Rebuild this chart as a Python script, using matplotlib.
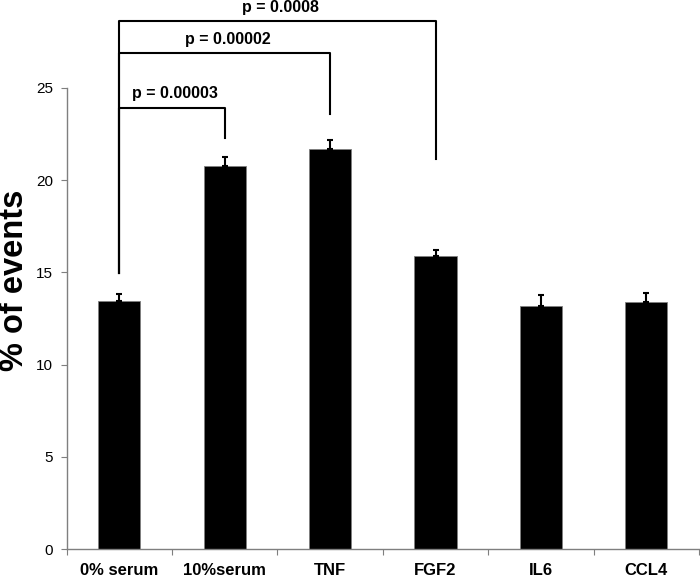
import numpy as np
import matplotlib
matplotlib.use('Agg')
import matplotlib.pyplot as plt

# data
categories = ['0% serum', '10%serum', 'TNF', 'FGF2', 'IL6', 'CCL4']
values = [13.47, 20.79, 21.69, 15.89, 13.19, 13.38]
errors = [0.36, 0.49, 0.47, 0.32, 0.58, 0.49]

# significance brackets: (from, to, bracket height, right leg bottom, label)
brackets = [
    (0, 1, 23.93, 22.29, 'p = 0.00003'),
    (0, 2, 26.90, 23.59, 'p = 0.00002'),
    (0, 3, 28.63, 21.13, 'p = 0.0008'),
]
left_leg_bottom = 14.98

plt.rcParams['font.family'] = ['Liberation Sans', 'DejaVu Sans']

fig = plt.figure(figsize=(7, 5.77), dpi=100)
ax = fig.add_axes([0.0953, 0.0485, 0.9033, 0.799])

x = np.arange(len(categories))
ax.bar(x, values, width=0.4, color='black', edgecolor='#7f7f7f', linewidth=0.6, zorder=2)
ax.errorbar(x, values, yerr=[np.zeros(len(errors)), errors], fmt='none',
            ecolor='black', elinewidth=1.5, capsize=2, capthick=1.5, zorder=3)

for i, j, h, rb, label in brackets:
    ax.plot([x[i], x[i], x[j], x[j]], [left_leg_bottom, h, h, rb],
            color='black', linewidth=1.5, clip_on=False, zorder=4)
    ax.text((x[i] + x[j]) / 2 + 0.03, h + 0.35, label, ha='center', va='bottom',
            fontsize=11.5, fontweight='bold', clip_on=False)

ax.set_xlim(-0.5, len(categories) - 0.5)
ax.set_ylim(0, 25)
ax.set_yticks([0, 5, 10, 15, 20, 25])
ax.set_xticks(np.arange(len(categories) + 1) - 0.5)
ax.set_xticklabels([])
ax.set_xticks(x, minor=True)
ax.set_xticklabels(categories, minor=True, fontsize=12, fontweight='bold')
ax.tick_params(axis='x', which='minor', length=0, pad=10)
ax.tick_params(axis='x', which='major', length=4, direction='out', color='#7f7f7f')
ax.tick_params(axis='y', length=4, direction='out', color='#7f7f7f', labelsize=11, pad=6)

for s in ['top', 'right']:
    ax.spines[s].set_visible(False)
for s in ['left', 'bottom']:
    ax.spines[s].set_color('#7f7f7f')
    ax.spines[s].set_linewidth(1)

ax.set_ylabel('% of events', fontsize=23.5, fontweight='bold')
ax.yaxis.set_label_coords(-0.058, 0.583)

fig.savefig('out.png', dpi=100)
